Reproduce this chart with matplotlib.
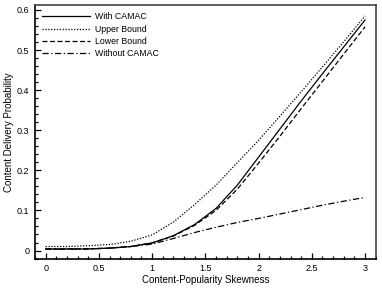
import numpy as np
import matplotlib
matplotlib.use('Agg')
import matplotlib.pyplot as plt
from matplotlib.ticker import MultipleLocator

plt.rcParams['font.family'] = ['Liberation Sans', 'DejaVu Sans']

# values
skew = [0.0, 0.2, 0.4, 0.6, 0.8, 1.0, 1.2, 1.4, 1.6, 1.8, 2.0, 2.2, 2.4, 2.6, 2.8, 3.0]
with_camac = [0.004, 0.004, 0.004, 0.006, 0.010, 0.019, 0.037, 0.065, 0.105, 0.163,
              0.233, 0.303, 0.373, 0.441, 0.508, 0.575]
upper_bound = [0.010, 0.010, 0.012, 0.015, 0.023, 0.039, 0.071, 0.115, 0.163, 0.219,
               0.275, 0.335, 0.396, 0.458, 0.521, 0.585]
lower_bound = [0.004, 0.004, 0.004, 0.006, 0.010, 0.019, 0.036, 0.063, 0.100, 0.153,
               0.218, 0.285, 0.354, 0.422, 0.490, 0.558]
without_camac = [0.003, 0.003, 0.004, 0.006, 0.010, 0.016, 0.030, 0.045, 0.058, 0.070,
                 0.080, 0.091, 0.102, 0.113, 0.123, 0.1325]

fig = plt.figure(figsize=(3.82, 2.89), dpi=100)
ax = fig.add_axes([0.0916, 0.104, 0.892, 0.879])

lw = 0.9
ax.plot(skew, with_camac, color='black', lw=lw, ls='-', label='With CAMAC')
ax.plot(skew, upper_bound, color='black', lw=lw, ls=(0, (1, 1.3)), label='Upper Bound')
ax.plot(skew, lower_bound, color='black', lw=lw, ls=(0, (4, 2)), label='Lower Bound')
ax.plot(skew, without_camac, color='black', lw=lw, ls=(0, (5, 2, 1, 2)), label='Without CAMAC')

ax.set_xlim(-0.1, 3.1)
ax.set_ylim(-0.021, 0.6125)
ax.xaxis.set_major_locator(MultipleLocator(0.5))
ax.xaxis.set_minor_locator(MultipleLocator(0.1))
ax.yaxis.set_major_locator(MultipleLocator(0.1))
ax.yaxis.set_minor_locator(MultipleLocator(0.02))
ax.xaxis.set_major_formatter(plt.FuncFormatter(lambda v, p: '{:g}'.format(v)))
ax.yaxis.set_major_formatter(plt.FuncFormatter(lambda v, p: '{:g}'.format(round(v, 2))))

ax.tick_params(which='both', direction='in', top=False, right=False, labelsize=6.5, width=0.9)
ax.tick_params(which='major', length=4.5, pad=4)
ax.tick_params(which='minor', length=2.2)
for s in ax.spines.values():
    s.set_linewidth(1.2)
ax.spines['right'].set_color('#444444')
ax.spines['top'].set_color('#444444')

ax.set_xlabel('Content-Popularity Skewness', fontsize=7, labelpad=1)
ax.set_ylabel('Content Delivery Probability', fontsize=7, labelpad=2)

ax.legend(loc='upper left', frameon=False, fontsize=6.3, handlelength=5.4,
          handletextpad=0.6, labelspacing=0.38, borderaxespad=0.45)

plt.savefig('out.png', dpi=100)
